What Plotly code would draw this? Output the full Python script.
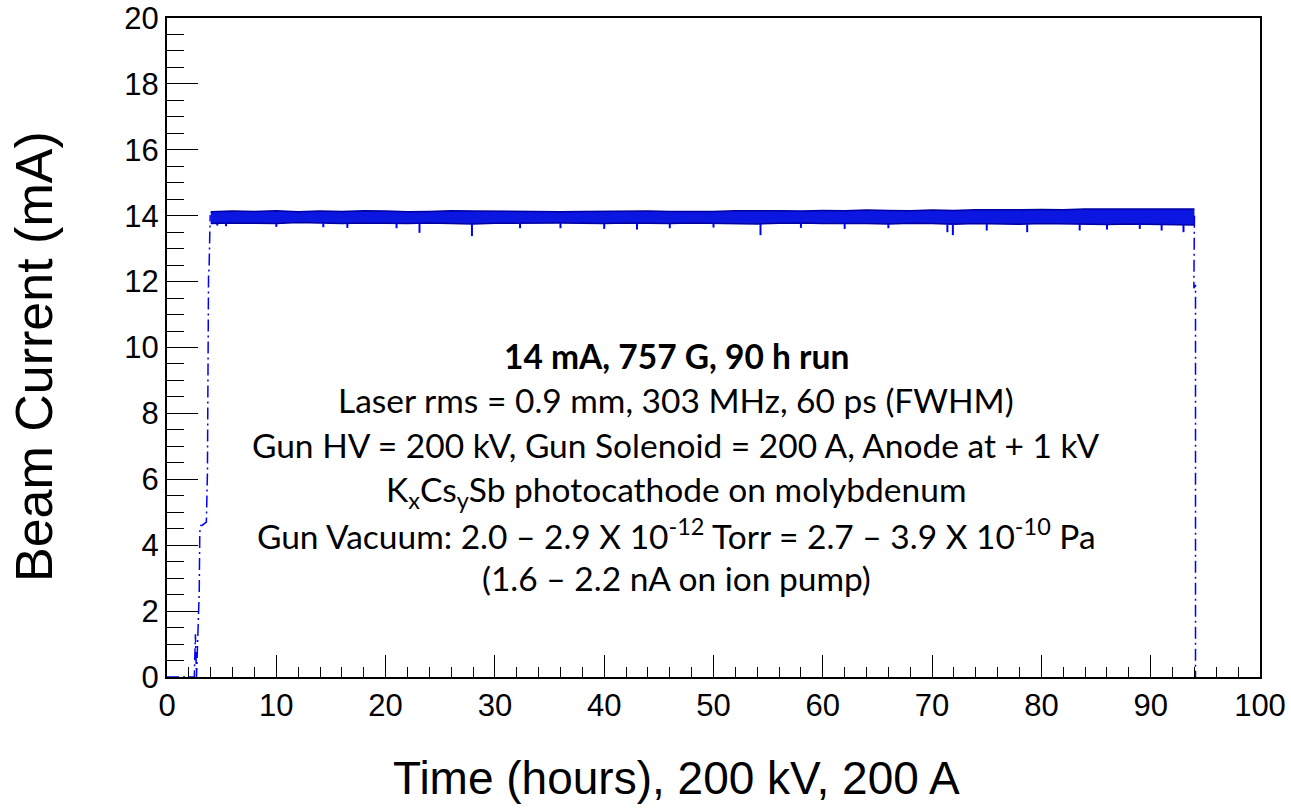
import plotly.graph_objects as go

# ---------------- data ----------------
# ramp-up of the beam current (hours, mA)
ramp_time = [0.0, 2.5, 2.6, 2.7, 2.95, 3.0, 3.1, 3.2, 3.6, 3.65, 3.7, 3.8, 3.85, 3.95, 4.0]
ramp_current = [0.0, 0.0, 1.3, 0.0, 2.6, 4.4, 4.6, 4.6, 4.7, 6.2, 6.2, 12.2, 12.4, 14.0, 14.0]

# trip at the end of the run
drop_time = [94.0, 93.95, 94.1, 94.1]
drop_current = [14.0, 11.8, 11.9, 0.0]

# noise band of the 14 mA plateau: upper and lower envelopes
band_time = [4, 6, 8, 10, 12, 14, 16, 18, 20, 22, 24, 26, 28, 30, 32, 34, 36, 38, 40, 42,
             44, 46, 48, 50, 52, 54, 56, 58, 60, 62, 64, 66, 68, 70, 72, 74, 76, 78, 80, 82,
             84, 86, 88, 90, 92, 93.3, 94.0]
band_upper = [14.12, 14.14, 14.13, 14.15, 14.12, 14.14, 14.13, 14.15, 14.14, 14.12,
              14.13, 14.15, 14.14, 14.13, 14.12, 14.11, 14.12, 14.13, 14.14, 14.15,
              14.14, 14.13, 14.12, 14.13, 14.15, 14.16, 14.15, 14.14, 14.16, 14.15,
              14.17, 14.16, 14.15, 14.17, 14.16, 14.18, 14.17, 14.18, 14.19, 14.18,
              14.20, 14.19, 14.20, 14.20, 14.19, 14.20, 14.20]
band_lower = [13.76, 13.78, 13.77, 13.76, 13.79, 13.77, 13.76, 13.78, 13.77, 13.76,
              13.78, 13.77, 13.75, 13.77, 13.78, 13.79, 13.78, 13.77, 13.76, 13.78,
              13.77, 13.76, 13.78, 13.77, 13.76, 13.75, 13.77, 13.78, 13.76, 13.77,
              13.76, 13.75, 13.77, 13.76, 13.74, 13.76, 13.75, 13.74, 13.76, 13.75,
              13.74, 13.73, 13.75, 13.74, 13.73, 13.72, 13.72]

# short downward excursions below the band (hours, mA)
dip_time = [4.6, 5.4, 10.0, 14.3, 16.5, 21.0, 23.1, 27.9, 32.3, 36.0, 40.0, 43.0, 46.0,
            50.0, 54.3, 58.0, 62.0, 66.0, 71.4, 71.9, 75.0, 78.7, 83.5, 86.0, 89.0, 91.0, 93.0]
dip_current = [13.70, 13.68, 13.66, 13.65, 13.63, 13.62, 13.48, 13.38, 13.62, 13.62, 13.60,
               13.58, 13.62, 13.64, 13.41, 13.63, 13.60, 13.62, 13.50, 13.41, 13.55, 13.50,
               13.55, 13.58, 13.60, 13.55, 13.50]

# annotation lines
note_lines = [
    "<b>14 mA, 757 G, 90 h run</b>",
    "Laser rms = 0.9 mm, 303 MHz, 60 ps (FWHM)",
    "Gun HV = 200 kV, Gun Solenoid = 200 A, Anode at + 1 kV",
    "K<sub>x</sub>Cs<sub>y</sub>Sb photocathode on molybdenum",
    "Gun Vacuum: 2.0 \u2013 2.9 X 10<sup>-12</sup> Torr = 2.7 \u2013 3.9 X 10<sup>-10</sup> Pa",
    "(1.6 \u2013 2.2 nA on ion pump)",
]
note_y = [9.75, 8.4, 7.05, 5.64, 4.34, 2.99]

x_tick_vals = [0, 10, 20, 30, 40, 50, 60, 70, 80, 90, 100]
y_tick_vals = [0, 2, 4, 6, 8, 10, 12, 14, 16, 18, 20]

# ---------------- figure ----------------
BLUE = "#0000ff"
DARK = "#0000a0"

fig = go.Figure()

fig.add_trace(go.Scatter(x=band_time, y=band_lower, mode="lines",
                         line=dict(color=DARK, width=1.5), showlegend=False,
                         hoverinfo="skip"))
fig.add_trace(go.Scatter(x=band_time, y=band_upper, mode="lines", fill="tonexty",
                         fillcolor="rgb(12,22,225)",
                         line=dict(color=DARK, width=1.5), showlegend=False,
                         hoverinfo="skip"))

dx, dy = [], []
for t, v in zip(dip_time, dip_current):
    low_ref = band_lower[min(range(len(band_time)), key=lambda k: abs(band_time[k] - t))]
    dx += [t, t, None]
    dy += [low_ref, v, None]
fig.add_trace(go.Scatter(x=dx, y=dy, mode="lines", line=dict(color=BLUE, width=2),
                         showlegend=False, hoverinfo="skip"))

dash = "12px,4px,2px,4px"
fig.add_trace(go.Scatter(x=ramp_time, y=ramp_current, mode="lines",
                         line=dict(color=BLUE, width=1.5, dash=dash), showlegend=False))
fig.add_trace(go.Scatter(x=drop_time, y=drop_current, mode="lines",
                         line=dict(color=BLUE, width=1.5, dash=dash), showlegend=False))

tick_font = dict(family="Liberation Sans, Arial, sans-serif", size=31, color="black")

fig.update_xaxes(range=[0, 100], tickvals=x_tick_vals, ticks="inside", ticklen=22,
                 tickwidth=1.2, tickcolor="black", showline=True, linecolor="black",
                 linewidth=2, mirror=True, showgrid=False, zeroline=False,
                 tickfont=tick_font, automargin=False,
                 minor=dict(dtick=2, ticks="inside", ticklen=10, tickwidth=1.2,
                            tickcolor="black", showgrid=False))
fig.update_yaxes(range=[0, 20], tickvals=y_tick_vals, ticks="inside", ticklen=31,
                 tickwidth=1.2, tickcolor="black", showline=True, linecolor="black",
                 linewidth=2, mirror=True, showgrid=False, zeroline=False,
                 tickfont=tick_font, automargin=False,
                 minor=dict(dtick=0.5, ticks="inside", ticklen=17, tickwidth=1.2,
                            tickcolor="black", showgrid=False))

annotations = []
for txt, yv in zip(note_lines, note_y):
    annotations.append(dict(x=46.6, y=yv, xref="x", yref="y", text=txt, showarrow=False,
                            xanchor="center", yanchor="middle",
                            font=dict(family="Lato, sans-serif", size=33.5, color="black")))
annotations.append(dict(x=-0.1217, y=0.487, xref="paper", yref="paper",
                        text="Beam Current (mA)", textangle=-90, showarrow=False,
                        xanchor="center", yanchor="middle",
                        font=dict(family="Liberation Sans, Arial, sans-serif", size=52,
                                  color="black")))
annotations.append(dict(x=0.4657, y=-0.153, xref="paper", yref="paper",
                        text="Time (hours), 200 kV, 200 A", showarrow=False,
                        xanchor="center", yanchor="middle",
                        font=dict(family="Liberation Sans, Arial, sans-serif", size=46,
                                  color="black")))

fig.update_layout(width=1291, height=808, margin=dict(l=167, r=31, t=18, b=131),
                  paper_bgcolor="white", plot_bgcolor="white", annotations=annotations)

fig.write_html("out.html")
